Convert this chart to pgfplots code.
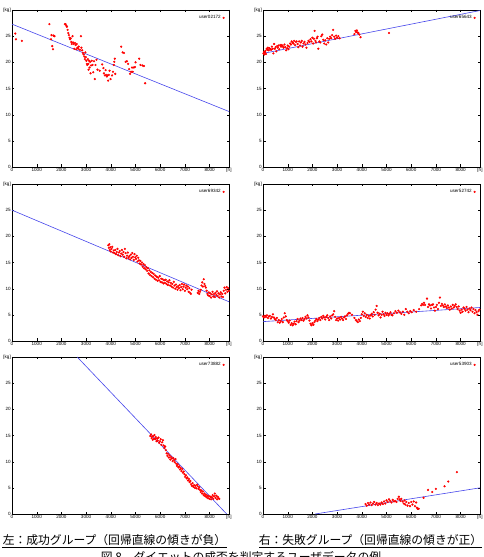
\documentclass[border=0pt]{standalone}
\usepackage{pgfplots}
\pgfplotsset{compat=1.18}
\usepackage{fontspec}
\setmainfont{Liberation Sans}
\newfontfamily\cjk{Noto Sans CJK JP}
\definecolor{regblue}{RGB}{70,70,235}
\pgfplotsset{
 panel/.style={
  scale only axis, width=217pt, height=157pt,
  xmin=0, xmax=8784, ymin=0, ymax=30,
  xtick={0,1000,2000,3000,4000,5000,6000,7000,8000,8784},
  xticklabels={0,1000,2000,3000,4000,5000,6000,7000,8000,[h]},
  ytick={0,5,10,15,20,25,30},
  yticklabels={0,5,10,15,20,25,[kg]},
  tick align=inside, major tick length=2.5pt, tick pos=both,
  tick style={black, line width=0.3pt},
  axis line style={line width=0.4pt},
  ticklabel style={font=\fontsize{4.6}{5}\selectfont, inner sep=1pt},
  legend style={draw=none, fill=none, at={(0.985,0.985)}, anchor=north east,
    font=\fontsize{4.6}{5}\selectfont, inner sep=1pt},
  legend plot pos=right, legend cell align=right,
  clip=true,
 },
 pts/.style={only marks, mark=*, mark size=0.9pt, color=red},
 reg/.style={regblue, line width=0.6pt, no marks, forget plot},
}
\begin{document}
\begin{tikzpicture}[x=1pt,y=1pt]
\useasboundingbox (0,0) rectangle (483,557);

% Panel 1
\begin{axis}[panel, at={(12pt,390pt)}, anchor=south west]
\addplot[pts] coordinates {
(134,25.5)(160,24.4)(400,24.1)(1515,27.3)(1580,24.4)(1600,25.2)(1630,23.1)(1660,22.5)(1680,25.1)(1720,25.0)
(2140,27.3)(2170,27.3)(2200,27.0)(2220,26.8)(2250,26.2)(2280,25.6)(2300,25.2)(2330,24.7)(2350,24.4)(2380,24.6)
(2400,23.9)(2420,23.5)(2450,25.0)(2470,23.8)(2500,23.5)(2520,22.6)(2550,23.7)(2580,23.3)(2600,22.5)(2620,23.5)
(2650,22.8)(2680,22.6)(2700,23.0)(2750,22.4)(2790,25.0)(2810,22.8)(2840,22.3)(2870,21.8)(2900,21.5)(2930,21.1)
(2950,20.6)(2970,21.9)(2990,21.0)(3010,20.3)(3030,19.7)(3050,19.5)(3070,20.6)(3090,19.7)(3100,18.6)(3120,20.3)
(3140,19.0)(3160,20.1)(3180,17.9)(3200,19.4)(3230,20.3)(3260,19.5)(3290,18.1)(3320,20.2)(3350,16.8)(3380,19.5)
(3420,20.5)(3460,18.6)(3550,18.4)(3650,19.6)(3700,18.9)(3720,17.9)(3760,17.5)(3790,18.5)(3810,17.6)(3840,17.3)
(3870,17.5)(3890,16.5)(3920,17.6)(3950,18.4)(3990,16.8)(4050,17.5)(4090,18.2)(4120,19.5)(4140,20.1)(4160,20.7)
(4180,17.8)(4420,23.0)(4480,21.9)(4530,21.8)(4600,20.1)(4650,20.2)(4700,19.7)(4740,18.7)(4780,17.8)(4820,18.2)
(4860,19.0)(4890,18.2)(4930,19.0)(4980,19.1)(5000,20.0)(5150,20.7)(5200,19.5)(5280,19.4)(5340,19.3)(5390,16.0)
};
\addlegendentry{user02172}
\addplot[reg] coordinates {(0,27.3)(8784,10.6)};
\end{axis}

% Panel 2
\begin{axis}[panel, at={(263pt,390pt)}, anchor=south west]
\addplot[pts] coordinates {
(20,21.7)(40,22.0)(60,21.5)(80,21.9)(100,22.2)(120,21.6)(150,22.6)(180,22.4)(200,22.8)(230,22.3)
(260,22.7)(300,22.5)(330,22.4)(360,23.0)(390,22.6)(420,21.7)(450,23.5)(480,22.6)(510,22.9)(540,22.1)
(570,23.1)(600,22.8)(630,23.2)(660,22.5)(700,23.3)(730,23.0)(760,23.3)(800,23.1)(830,22.8)(870,23.4)
(900,22.9)(940,22.3)(980,22.7)(1000,23.2)(1030,22.5)(1060,23.0)(1100,23.6)(1130,23.4)(1160,24.0)(1200,23.8)
(1230,23.6)(1260,24.1)(1300,23.3)(1330,23.9)(1360,24.0)(1400,23.5)(1430,22.9)(1460,24.0)(1500,23.2)(1530,23.8)
(1570,24.1)(1600,23.0)(1640,23.6)(1680,23.9)(1720,23.4)(1760,22.8)(1800,23.7)(1840,24.1)(1880,23.9)(1920,24.4)
(1960,24.0)(2000,24.7)(2030,23.6)(2060,24.5)(2090,26.0)(2120,24.1)(2150,23.8)(2180,24.6)(2210,24.9)(2240,22.6)
(2280,24.0)(2320,23.8)(2360,25.0)(2400,25.3)(2440,24.3)(2480,23.6)(2520,24.2)(2560,23.4)(2600,24.6)(2640,23.8)
(2680,24.5)(2720,24.9)(2760,24.6)(2800,25.2)(2840,26.2)(2880,24.9)(2920,24.5)(2960,25.1)(3000,24.7)(3050,25.0)
(3100,24.6)(3700,25.4)(3740,26.0)(3770,25.8)(3800,26.1)(3830,25.7)(3860,25.6)(3900,25.3)(3950,24.8)(5100,25.6)
};
\addlegendentry{user65643}
\addplot[reg] coordinates {(0,21.7)(8784,29.9)};
\end{axis}

% Panel 3
\begin{axis}[panel, at={(12pt,216pt)}, anchor=south west]
\addplot[pts] coordinates {
(3900,18.3)(3920,17.8)(3940,18.5)(3960,17.4)(3980,17.9)(4000,17.1)(4030,17.6)(4060,18.0)(4090,16.9)(4120,17.3)
(4150,16.8)(4180,17.4)(4210,16.6)(4240,17.0)(4270,17.6)(4300,16.4)(4330,16.9)(4360,17.2)(4390,16.2)(4420,16.7)
(4450,17.4)(4480,16.5)(4510,17.0)(4540,16.1)(4570,17.6)(4600,16.8)(4630,15.8)(4660,16.3)(4690,16.9)(4720,15.9)
(4750,16.2)(4780,15.6)(4810,16.5)(4840,15.9)(4870,16.8)(4900,16.1)(4930,15.5)(4960,16.6)(4990,16.0)(5020,15.7)
(5050,16.3)(5080,15.2)(5110,15.9)(5140,15.4)(5170,14.8)(5200,15.3)(5230,14.6)(5260,15.0)(5290,14.2)(5320,14.7)
(5350,13.9)(5380,14.5)(5410,13.7)(5440,14.1)(5470,13.4)(5500,13.9)(5530,12.9)(5560,13.5)(5590,12.6)(5620,13.2)
(5650,12.4)(5680,13.0)(5710,12.2)(5740,12.8)(5770,11.9)(5800,12.5)(5830,11.7)(5860,12.3)(5890,11.5)(5920,12.1)
(5950,11.6)(5980,12.4)(6010,11.3)(6040,11.9)(6070,11.2)(6100,11.8)(6130,11.0)(6160,11.6)(6190,11.1)(6220,11.7)
(6250,10.9)(6280,11.4)(6310,10.7)(6340,11.2)(6370,11.6)(6400,10.6)(6430,11.1)(6460,10.4)(6490,10.9)(6520,10.2)
(6550,11.3)(6580,10.6)(6610,10.0)(6640,10.8)(6670,10.3)(6700,9.8)(6730,10.5)(6760,10.1)(6790,10.7)(6820,9.7)
(6850,10.3)(6880,10.9)(6910,9.9)(6940,10.4)(6970,10.8)(7000,9.6)(7030,10.2)(7060,10.6)(7090,9.9)(7120,10.4)
(7150,9.4)(7180,10.1)(7210,9.2)(7240,9.0)(7270,9.8)(7520,9.2)(7550,9.6)(7580,9.0)(7610,9.4)(7640,9.8)
(7670,10.6)(7700,11.2)(7730,10.4)(7760,11.8)(7790,10.9)(7820,10.5)(7850,10.2)(7880,9.6)(7910,9.0)(7940,8.7)
(7970,9.3)(8000,8.6)(8030,9.1)(8060,8.3)(8090,8.9)(8120,9.4)(8150,8.5)(8180,9.0)(8210,8.4)(8240,9.2)
(8270,8.8)(8300,9.5)(8330,8.6)(8360,9.1)(8390,8.3)(8420,8.9)(8450,9.3)(8480,8.5)(8510,9.0)(8540,8.4)
(8570,9.6)(8600,10.2)(8630,9.1)(8660,9.8)(8690,10.3)(8720,9.4)(8750,10.1)(8780,9.6)
};
\addlegendentry{user69342}
\addplot[reg] coordinates {(0,25.0)(8784,7.5)};
\end{axis}

% Panel 4
\begin{axis}[panel, at={(263pt,216pt)}, anchor=south west]
\addplot[pts] coordinates {
(0,4.7)(40,4.5)(80,4.8)(120,4.6)(160,4.9)(200,4.4)(240,4.7)(280,4.8)(320,4.3)(360,4.6)
(400,5.1)(440,4.5)(480,4.2)(520,4.0)(560,4.4)(600,3.6)(640,4.0)(680,3.5)(720,3.8)(760,4.2)
(800,3.6)(840,4.5)(880,5.3)(920,4.7)(960,4.0)(1000,3.8)(1040,3.5)(1080,3.9)(1120,3.1)(1160,3.4)
(1200,3.0)(1240,3.3)(1280,3.7)(1320,3.2)(1360,3.8)(1400,4.2)(1440,3.6)(1480,3.9)(1520,4.3)(1560,4.0)
(1600,4.4)(1640,3.9)(1680,4.2)(1720,4.6)(1760,4.3)(1800,4.9)(1840,4.5)(1880,3.9)(1920,3.3)(1960,3.0)
(2000,3.4)(2040,3.1)(2080,3.6)(2120,3.9)(2160,4.2)(2200,3.8)(2240,4.1)(2280,4.4)(2320,4.0)(2360,4.6)
(2400,4.3)(2440,4.8)(2480,4.5)(2520,4.1)(2560,4.6)(2600,4.9)(2640,4.4)(2680,4.0)(2720,4.7)(2760,4.3)
(2800,4.9)(2840,5.1)(2880,5.7)(2920,4.6)(2960,4.0)(3000,4.3)(3040,3.9)(3080,4.4)(3120,4.1)(3160,4.6)
(3200,4.3)(3240,4.0)(3280,4.5)(3320,4.7)(3360,4.2)(3400,4.9)(3440,5.2)(3480,5.4)(3520,5.3)(3600,5.0)
(3700,4.4)(3760,4.0)(3800,3.8)(3840,3.6)(3880,4.1)(3920,3.8)(3960,4.4)(4000,5.1)(4040,5.6)(4080,4.8)
(4120,5.3)(4160,4.6)(4200,5.0)(4240,4.4)(4280,4.8)(4320,4.3)(4360,4.9)(4400,5.2)(4440,4.7)(4480,5.5)
(4520,5.0)(4560,6.0)(4600,6.7)(4640,5.4)(4680,4.9)(4720,5.2)(4760,4.5)(4800,5.0)(4840,5.6)(4880,5.1)
(4920,4.8)(4960,5.4)(5000,5.0)(5040,5.3)(5080,4.9)(5120,5.2)(5160,5.5)(5200,5.0)(5240,4.9)(5300,5.3)
(5360,5.7)(5420,5.4)(5480,5.8)(5540,5.5)(5600,5.2)(5660,5.6)(5720,5.0)(5780,6.1)(5840,5.6)(5900,5.3)
(5960,5.7)(6020,5.5)(6100,5.9)(6200,5.6)(6320,6.1)(6400,6.8)(6440,7.1)(6480,6.9)(6520,7.3)(6560,6.9)
(6640,8.1)(6680,6.5)(6720,7.0)(6760,6.8)(6800,6.2)(6840,6.9)(6880,7.0)(6920,6.4)(6960,5.8)(7000,6.5)
(7040,6.9)(7080,6.1)(7120,7.3)(7160,8.3)(7200,6.7)(7240,7.1)(7280,6.8)(7320,6.5)(7360,7.0)(7400,6.6)
(7440,6.3)(7480,6.8)(7520,6.4)(7560,6.0)(7600,6.6)(7640,6.2)(7680,6.9)(7720,6.4)(7760,6.7)(7800,7.0)
(7840,6.5)(7880,6.1)(7920,6.6)(7960,5.8)(8000,5.4)(8040,6.0)(8080,5.6)(8120,6.4)(8160,6.1)(8200,5.8)
(8240,6.5)(8280,6.0)(8320,5.5)(8360,6.2)(8400,5.9)(8440,6.4)(8480,5.6)(8520,6.1)(8560,5.3)(8600,5.9)
(8640,5.5)(8680,5.0)(8720,5.7)(8760,6.0)
};
\addlegendentry{user52742}
\addplot[reg] coordinates {(0,3.7)(8784,6.4)};
\end{axis}

% Panel 5
\begin{axis}[panel, at={(12pt,43pt)}, anchor=south west]
\addplot[pts] coordinates {
(5600,14.9)(5630,15.2)(5650,14.5)(5680,14.8)(5700,14.2)(5720,14.9)(5750,14.4)(5770,15.1)(5800,14.3)(5820,14.7)
(5850,13.9)(5880,14.4)(5900,14.0)(5930,14.6)(5960,13.6)(5990,13.9)(6020,14.3)(6050,13.2)(6080,13.7)(6110,14.1)
(6140,13.1)(6170,12.6)(6200,12.9)(6230,12.2)(6260,11.6)(6290,11.1)(6320,11.5)(6350,10.8)(6380,11.2)(6410,10.4)
(6440,10.9)(6470,10.6)(6500,10.1)(6530,10.7)(6560,10.3)(6590,9.9)(6620,10.5)(6650,9.6)(6680,9.2)(6710,9.5)
(6740,8.9)(6770,9.1)(6800,8.5)(6830,8.8)(6860,8.2)(6890,8.6)(6920,7.9)(6950,8.1)(6980,7.6)(7010,7.1)
(7040,7.4)(7070,6.8)(7100,7.0)(7130,6.4)(7160,6.7)(7190,6.1)(7220,6.3)(7250,5.7)(7280,5.4)(7310,5.9)
(7340,5.2)(7370,5.5)(7400,5.0)(7430,5.4)(7460,4.9)(7490,5.6)(7520,5.3)(7550,4.8)(7580,5.1)(7610,4.6)
(7640,4.2)(7670,4.5)(7700,3.9)(7730,4.3)(7760,3.6)(7790,3.9)(7820,3.4)(7850,3.7)(7880,3.2)(7910,3.5)
(7940,3.0)(7970,3.4)(8000,2.9)(8030,3.3)(8060,2.8)(8090,3.2)(8120,3.6)(8150,2.9)(8180,3.4)(8210,3.9)
(8240,3.1)(8270,3.5)(8300,2.8)(8330,3.3)(8360,3.0)(8390,2.9)
};
\addlegendentry{user73882}
\addplot[reg] coordinates {(2640,30)(8690,0)};
\end{axis}

% Panel 6
\begin{axis}[panel, at={(263pt,43pt)}, anchor=south west]
\addplot[pts] coordinates {
(4150,1.9)(4200,1.6)(4250,2.1)(4300,1.8)(4350,2.2)(4400,1.7)(4450,2.0)(4500,2.3)(4550,1.8)(4600,2.1)
(4650,1.7)(4700,2.0)(4750,1.8)(4800,2.2)(4850,1.9)(4900,2.4)(4950,2.0)(5000,2.6)(5050,2.3)(5100,2.8)
(5150,2.5)(5200,2.2)(5250,2.7)(5300,2.4)(5350,2.5)(5400,2.3)(5450,2.9)(5500,3.3)(5530,2.8)(5560,2.5)
(5600,2.9)(5650,2.4)(5700,2.0)(5730,2.6)(5760,1.8)(5800,2.3)(5850,1.6)(5900,2.1)(5950,1.5)(6000,2.3)
(6050,1.8)(6100,2.4)(6150,1.5)(6200,2.2)(6230,1.2)(6260,1.0)(6300,1.0)(6500,3.1)(6680,4.6)(6850,4.2)
(7000,4.8)(7350,5.3)(7500,6.2)(7850,8.0)
};
\addlegendentry{user53903}
\addplot[reg] coordinates {(2110,0)(8784,5.0)};
\end{axis}

% captions
\node[anchor=center, inner sep=0pt] at (114.5,17) {\cjk\fontsize{11.8}{12}\selectfont 左：成功グループ（回帰直線の傾きが負）};
\draw[line width=0.5pt] (2,10) -- (227,10);
\node[anchor=center, inner sep=0pt] at (370.5,17) {\cjk\fontsize{11.8}{12}\selectfont 右：失敗グループ（回帰直線の傾きが正）};
\draw[line width=0.5pt] (259,10) -- (482,10);
\node[anchor=north, inner sep=0pt] at (241,6) {\cjk\fontsize{11.8}{12}\selectfont 図 8\quad ダイエットの成否を判定するユーザデータの例};
\end{tikzpicture}
\end{document}
